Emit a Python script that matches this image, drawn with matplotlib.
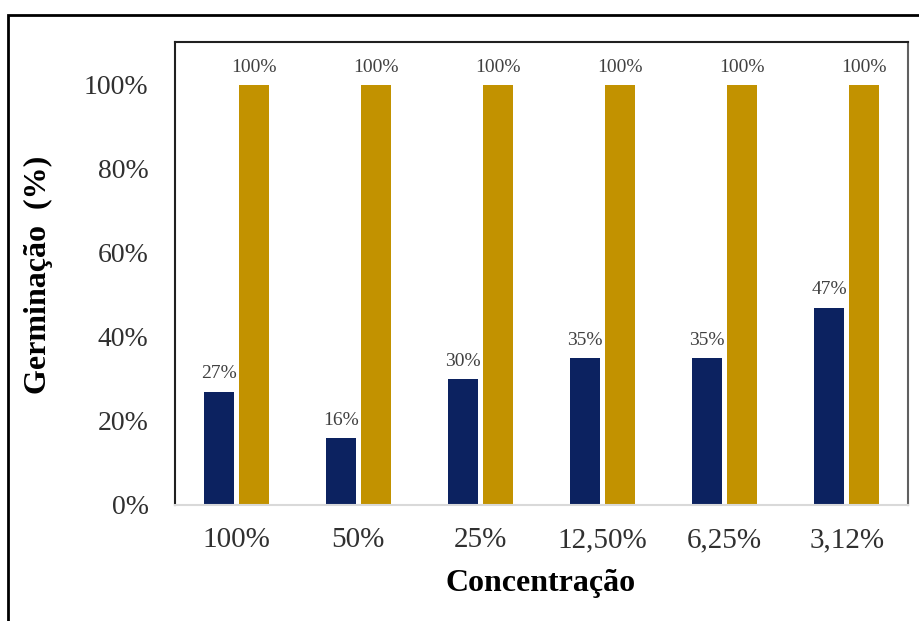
import matplotlib.pyplot as plt
import numpy as np
from matplotlib.patches import Rectangle

categories = ["100%", "50%", "25%", "12,50%", "6,25%", "3,12%"]
treated = [0.27, 0.16, 0.30, 0.35, 0.35, 0.47]
control = [1.00, 1.00, 1.00, 1.00, 1.00, 1.00]
treated_labels = ["27%", "16%", "30%", "35%", "35%", "47%"]
control_labels = ["100%"] * 6
yticks = [0, 0.2, 0.4, 0.6, 0.8, 1.0]
ytick_labels = ["0%", "20%", "40%", "60%", "80%", "100%"]

plt.rcParams['font.family'] = ['Liberation Serif', 'DejaVu Serif']

fig = plt.figure(figsize=(9.2, 6.21), dpi=100)
ax = fig.add_axes([175/920, 1-505/621, (908-175)/920, (505-42)/621])

x = np.arange(len(categories))
w = 0.245
off = 0.143
navy = "#0c2260"
gold = "#c29200"
ax.bar(x - off, treated, w, color=navy)
ax.bar(x + off, control, w, color=gold)

for xi, v, t in zip(x, treated, treated_labels):
    ax.text(xi - off, v + 0.022, t, ha='center', va='bottom', fontsize=14, color='#404040')
for xi, v, t in zip(x, control, control_labels):
    ax.text(xi + off, v + 0.022, t, ha='center', va='bottom', fontsize=14, color='#404040')

ax.set_xlim(-0.5, len(categories) - 0.5)
ax.set_ylim(0, 1.102)
ax.set_yticks(yticks)
ax.set_yticklabels(ytick_labels, fontsize=20, color='#303030')
ax.set_xticks(x)
ax.set_xticklabels(categories, fontsize=21, color='#303030')
ax.tick_params(length=0)
ax.tick_params(axis='x', pad=16)
ax.tick_params(axis='y', pad=19)

ax.spines['left'].set_color('#202020')
ax.spines['left'].set_linewidth(1.5)
ax.spines['top'].set_color('#202020')
ax.spines['top'].set_linewidth(1.5)
ax.spines['right'].set_color('#606060')
ax.spines['right'].set_linewidth(1.5)
ax.spines['bottom'].set_color('#d9d9d9')
ax.spines['bottom'].set_linewidth(1.5)

fig.text(541/920, 1-583/621, "Concentração", fontsize=23, fontweight='bold',
         ha='center', va='center')
fig.text(38/920, 1-275/621, "Germinação  (%)", rotation=90, fontsize=23,
         fontweight='bold', ha='center', va='center')

fig.patches.append(Rectangle((8/920, -0.05), 1.0, 1-15/621+0.05, transform=fig.transFigure,
                             fill=False, edgecolor='black', linewidth=2))

fig.savefig("out.png", dpi=100)
